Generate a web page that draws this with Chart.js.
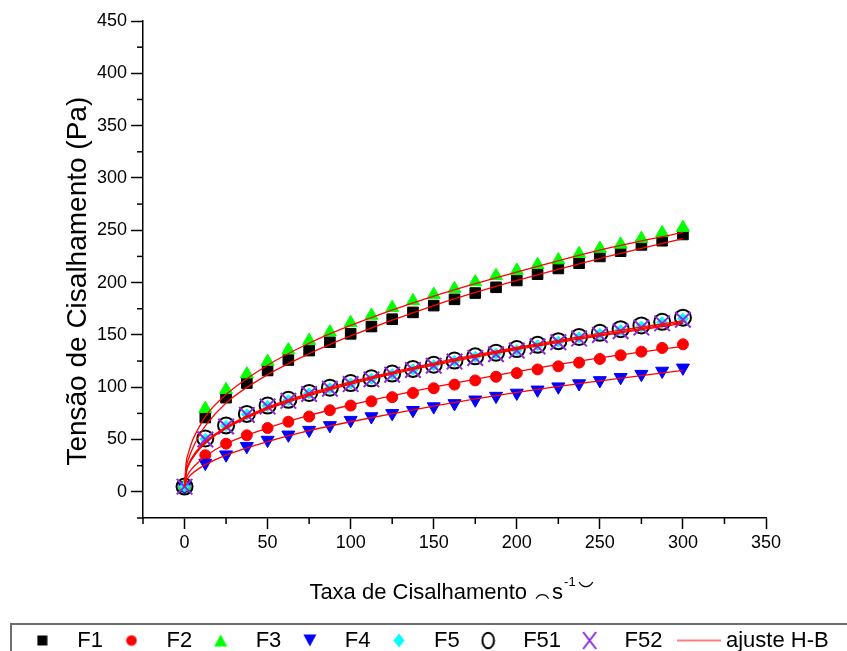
<!DOCTYPE html>
<html><head><meta charset="utf-8">
<script src="https://cdn.jsdelivr.net/npm/chart.js@4.4.0/dist/chart.umd.min.js"></script>
<style>html,body{margin:0;padding:0;background:#fff;}#wrap{width:847px;height:651px;position:relative;}</style>
</head><body><div id="wrap"><canvas id="c"></canvas></div>
<script>
// ---- data ----
const shearRate = [0,12.5,25,37.5,50,62.5,75,87.5,100,112.5,125,137.5,150,162.5,175,187.5,200,212.5,225,237.5,250,262.5,275,287.5,300];
const F1  = [5,71,90,104,116,126,135,143,151,158,165,171.5,178,184,190,195.5,202,208,213.5,218.5,225,230,236,240,246];
const F2  = [5,35,46,54,61,67,72,78,82.5,86.5,90.5,94.5,99,102.5,106.5,110,113.5,117,120,123.5,127,130.5,134,137.5,141];
const F3  = [5,79.5,97.5,112.5,124.5,135.5,144.5,152.5,161.5,168.5,176,182.5,188.5,194,200.5,206.5,211.5,217,221.5,227.5,232.5,236.5,242,247.5,252.5];
const F4  = [5,27.5,35.5,43.5,49.5,54.5,59,63.5,68.5,72,75,78,81.5,84.5,88,91.5,94.5,97.5,100.5,103.5,106.5,109.5,112.5,115.5,118.5];
const F5  = [5,50.5,63,74,82,87.5,94,99,103.5,108,112.5,117,121,125,129,132,135.5,140,143.5,147.5,151,154.5,158,162,165.5];
const F51 = [5,51,63.5,74.5,82.5,88,94.5,99.5,104,108.5,113,117.5,121.5,125.5,129.5,133,136.5,140.5,144,148,152,155.5,159,162.5,166.5];
const F52 = [5,50,62.5,73.5,81.5,87,93.5,98.5,103,107.5,112,116.5,120.5,124.5,128,131.5,135,139,143,146.5,150,153.5,157,161,164.5];

const fitRate = [0,1,2.5,5,7.5,12.5,25,50,75,100,150,200,250,300];
const fitF1  = [5,23,32,42,50,63,85,112,132,149,178,202,223,242];
const fitF2  = [5,13,18,23,27,34,46,61,73,83,100,115,128,139];
const fitF3  = [5,28,38,50,58,72,93,121,142,159,187,210,231,248];
const fitF4  = [5,10.5,14,18,21,26,35,48,58.5,67,82,95,106,116];
const fitF5  = [5,19,26,33,38.5,47,61,80,93,104,122,137,150,162];
const fitF51 = [5,19.5,26.5,34,39.5,48,62,81,94,105,123,138,151.5,163.5];
const fitF52 = [5,18.5,25.5,32.5,38,46.5,60.5,79,92,103,121,136,149,161];

const seriesNames = ['F1','F2','F3','F4','F5','F51','F52'];
const fitName = 'ajuste H-B';
const xTitleParts = ['Taxa de Cisalhamento', '\u2040', 's', '-1', '\u203F'];
const yTitle = 'Tens\u00E3o de Cisalhamento (Pa)';

// ---- helpers ----
const FAM = "'Liberation Sans', Arial, sans-serif";
const pts = (xs, ys) => xs.map((x, i) => ({x: x, y: ys[i]}));
const RED = '#ff0000', GREEN = '#00ff00', BLUE = '#0000ff', CYAN = '#00ffff', PURPLE = '#8a2be2';

function mk(w, h, draw) { const c = document.createElement('canvas'); c.width = w; c.height = h; draw(c.getContext('2d'), w, h); return c; }
const legendMarks = [
  mk(11,11,(g)=>{g.fillStyle='#000';g.fillRect(0.5,0.5,10,10);}),
  mk(12,12,(g)=>{g.fillStyle=RED;g.beginPath();g.arc(6,6,5.3,0,Math.PI*2);g.fill();}),
  mk(14,13,(g)=>{g.fillStyle=GREEN;g.beginPath();g.moveTo(7,0.5);g.lineTo(13.5,12.5);g.lineTo(0.5,12.5);g.closePath();g.fill();}),
  mk(14,13,(g)=>{g.fillStyle=BLUE;g.beginPath();g.moveTo(0.5,0.5);g.lineTo(13.5,0.5);g.lineTo(7,12.5);g.closePath();g.fill();}),
  mk(12,15,(g)=>{g.fillStyle=CYAN;g.beginPath();g.moveTo(6,0.5);g.lineTo(11.5,7.5);g.lineTo(6,14.5);g.lineTo(0.5,7.5);g.closePath();g.fill();}),
  mk(15,19,(g)=>{g.strokeStyle='#000';g.lineWidth=2;g.beginPath();g.ellipse(7.5,9.5,5.8,7.8,0,0,Math.PI*2);g.stroke();}),
  mk(16,19,(g)=>{g.strokeStyle=PURPLE;g.lineWidth=2;g.beginPath();g.moveTo(1.5,1);g.lineTo(14.5,18);g.moveTo(14.5,1);g.lineTo(1.5,18);g.stroke();}),
  mk(64,4,(g)=>{g.strokeStyle='#ff5555';g.lineWidth=1.6;g.beginPath();g.moveTo(18,2);g.lineTo(62,2);g.stroke();})
];

const mark = (label, data, style, color, r, extra) => Object.assign({
  label: label, data: data, pointStyle: style, pointRadius: r, pointHoverRadius: r,
  backgroundColor: color, borderColor: color, borderWidth: 1, showLine: false
}, extra || {});
const fit = (data, ord) => ({
  label: fitName, data: data, showLine: true, pointRadius: 0, pointHoverRadius: 0,
  borderColor: RED, backgroundColor: RED, borderWidth: 1.3, cubicInterpolationMode: 'monotone', order: ord
});

const datasets = [
  mark(seriesNames[0], pts(shearRate, F1), 'rect', '#000', 7.5, {order: 20}),
  mark(seriesNames[1], pts(shearRate, F2), 'circle', RED, 5.5, {order: 19}),
  mark(seriesNames[2], pts(shearRate, F3), 'triangle', GREEN, 7.5, {order: 18}),
  mark(seriesNames[3], pts(shearRate, F4), 'triangle', BLUE, 7.5, {order: 17, rotation: 180}),
  mark(seriesNames[4], pts(shearRate, F5), 'rectRot', CYAN, 5.5, {order: 16}),
  mark(seriesNames[5], pts(shearRate, F51), 'circle', '#000', 8, {order: 15, backgroundColor: 'rgba(0,0,0,0)', borderWidth: 2}),
  mark(seriesNames[6], pts(shearRate, F52), 'crossRot', PURPLE, 11, {order: 14, borderWidth: 2}),
  fit(pts(fitRate, fitF1), 7), fit(pts(fitRate, fitF2), 6), fit(pts(fitRate, fitF3), 5),
  fit(pts(fitRate, fitF4), 4), fit(pts(fitRate, fitF5), 3), fit(pts(fitRate, fitF51), 2), fit(pts(fitRate, fitF52), 1)
];

function drawXTitle(chart) {
  const ctx = chart.ctx, xs = chart.scales.x;
  const base = 599;
  const fnt = (s) => s + 'px ' + FAM;
  ctx.save();
  ctx.fillStyle = '#000'; ctx.textAlign = 'left'; ctx.textBaseline = 'alphabetic';
  const items = [];
  ctx.font = fnt(22);
  const m0 = ctx.measureText(xTitleParts[0]);
  items.push({t: xTitleParts[0], f: fnt(22), x: 0, y: base});
  let cur = m0.width;
  ctx.font = fnt(24);
  let m = ctx.measureText(xTitleParts[1]);
  let dx = cur + 8 + m.actualBoundingBoxLeft;
  let dy = 596 - (m.actualBoundingBoxDescent - m.actualBoundingBoxAscent) / 2;
  items.push({t: xTitleParts[1], f: fnt(24), x: dx, y: dy});
  cur = dx + m.actualBoundingBoxRight;
  ctx.font = fnt(22);
  m = ctx.measureText(xTitleParts[2]);
  items.push({t: xTitleParts[2], f: fnt(22), x: cur + 2, y: base});
  cur = cur + 2 + m.width;
  ctx.font = fnt(13);
  m = ctx.measureText(xTitleParts[3]);
  items.push({t: xTitleParts[3], f: fnt(13), x: cur + 1, y: base - 13});
  cur = cur + 1 + m.width;
  ctx.font = fnt(26);
  m = ctx.measureText(xTitleParts[4]);
  dx = cur + 2 + m.actualBoundingBoxLeft;
  dy = 584 - (m.actualBoundingBoxDescent - m.actualBoundingBoxAscent) / 2;
  items.push({t: xTitleParts[4], f: fnt(26), x: dx, y: dy});
  cur = dx + m.actualBoundingBoxRight;
  const x0 = (xs.left + xs.right) / 2 - cur / 2 - 3;
  items.forEach((it) => { ctx.font = it.f; ctx.fillText(it.t, x0 + it.x, it.y); });
  ctx.restore();
}

const decor = {
  id: 'decor',
  afterDraw(chart) {
    const ctx = chart.ctx, xs = chart.scales.x, ys = chart.scales.y;
    ctx.save();
    ctx.strokeStyle = '#000'; ctx.lineWidth = 1.5;
    for (let v = xs.min; v <= xs.max; v += 50) {
      const px = xs.getPixelForValue(v);
      ctx.beginPath(); ctx.moveTo(px, ys.bottom); ctx.lineTo(px, ys.bottom + 6); ctx.stroke();
    }
    for (let v = ys.min; v <= ys.max; v += 50) {
      const py = ys.getPixelForValue(v);
      ctx.beginPath(); ctx.moveTo(xs.left, py); ctx.lineTo(xs.left - 6, py); ctx.stroke();
    }
    const lg = chart.legend;
    ctx.strokeStyle = '#6e6e6e'; ctx.lineWidth = 2;
    ctx.strokeRect(11, lg.top - 1, 900, 80);
    ctx.restore();
    drawXTitle(chart);
  }
};

new Chart(document.getElementById('c'), {
  type: 'scatter',
  data: { datasets: datasets },
  plugins: [decor],
  options: {
    responsive: true, maintainAspectRatio: false, animation: false,
    layout: { padding: { left: 0, right: 0, top: 21, bottom: 0 } },
    plugins: {
      tooltip: { enabled: false },
      legend: {
        position: 'bottom', maxHeight: 26,
        labels: {
          usePointStyle: true, pointStyleWidth: 48, boxHeight: 14, padding: 4.5,
          color: '#000', font: { size: 22, family: FAM },
          generateLabels: () => seriesNames.concat([fitName]).map((t, i) => ({
            text: t, pointStyle: legendMarks[i], fillStyle: 'rgba(0,0,0,0)', strokeStyle: 'rgba(0,0,0,0)',
            lineWidth: 0, hidden: false, datasetIndex: i, fontColor: '#000'
          }))
        }
      }
    },
    scales: {
      x: {
        type: 'linear', min: -25, max: 350,
        ticks: { stepSize: 50, includeBounds: false, color: '#000', font: { size: 18, family: FAM }, padding: 3, maxRotation: 0 },
        grid: { drawOnChartArea: false, drawTicks: true, tickLength: 11, tickWidth: 1.5, tickColor: '#000' },
        border: { display: true, color: '#000', width: 1.5 },
        title: { display: false },
        afterFit(s) { s.height = 107; }
      },
      y: {
        type: 'linear', min: -25, max: 450,
        ticks: { stepSize: 50, includeBounds: false, color: '#000', font: { size: 18, family: FAM }, padding: 4 },
        grid: { drawOnChartArea: false, drawTicks: true, tickLength: 12, tickWidth: 1.5, tickColor: '#000' },
        border: { display: true, color: '#000', width: 1.5 },
        title: { display: true, text: yTitle + '   ', color: '#000', font: { size: 28, family: FAM }, padding: { top: 61, bottom: 0 } },
        afterFit(s) { s.width = 143; }
      },
      yR: {
        type: 'linear', position: 'right', min: 0, max: 1, display: true,
        grid: { display: false, drawTicks: false }, border: { display: false }, ticks: { display: false },
        afterFit(s) { s.width = 81; }
      }
    }
  }
});
</script></body></html>
